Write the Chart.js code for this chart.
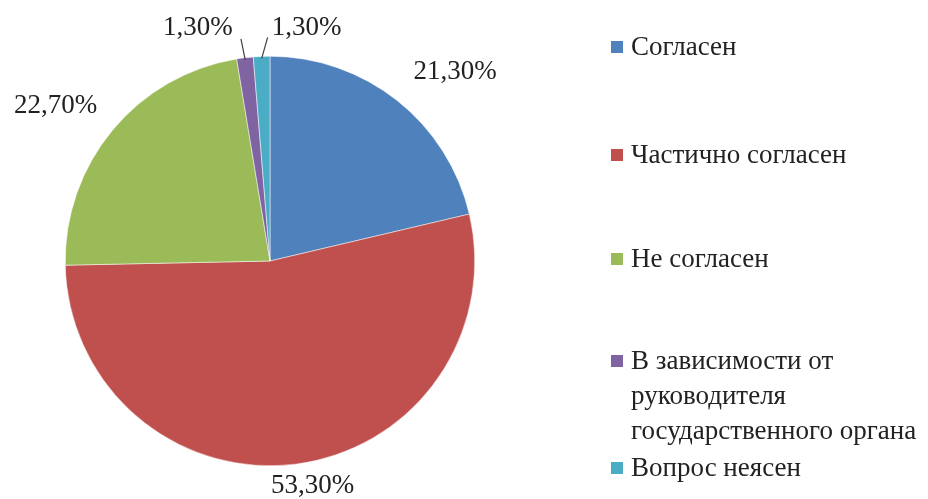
<!DOCTYPE html>
<html>
<head>
<meta charset="utf-8">
<script src="https://cdn.jsdelivr.net/npm/chart.js@4/dist/chart.umd.min.js"></script>
<style>
html,body{margin:0;padding:0;background:#fff;}
#wrap{position:relative;width:928px;height:499px;}
</style>
</head>
<body>
<div id="wrap"><canvas id="c" width="928" height="499"></canvas></div>
<script>
const categories = ["Согласен", "Частично согласен", "Не согласен", "В зависимости от руководителя государственного органа", "Вопрос неясен"];
const legendLines = [["Согласен"], ["Частично согласен"], ["Не согласен"], ["В зависимости от", "руководителя", "государственного органа"], ["Вопрос неясен"]];
const values = [21.3, 53.3, 22.7, 1.3, 1.3];
const valueLabels = ["21,30%", "53,30%", "22,70%", "1,30%", "1,30%"];
const colors = ["#4F81BD", "#C0504D", "#9BBB59", "#8064A2", "#4BACC6"];

const FONT = '27px "Liberation Serif", "Times New Roman", serif';
const TEXT = '#222222';

// label offsets relative to the arc edge point at mid-angle (style only)
const labelShift = [[58, -29], [17, 22], [-57, -24], [-47, -30], [45, -29]];
const leaderTop = [null, null, null, [-4, -19], [6, -19]];
const legendY = [47, 155, 259, 361, 468];
const legendLineH = 35;

const labelPlugin = {
  id: 'labelsAndLegend',
  afterDraw(chart) {
    const ctx = chart.ctx;
    const meta = chart.getDatasetMeta(0);
    ctx.save();
    ctx.font = FONT;
    ctx.fillStyle = TEXT;
    ctx.textBaseline = 'middle';
    ctx.textAlign = 'center';
    meta.data.forEach((arc, i) => {
      const p = arc.getProps(['x', 'y', 'startAngle', 'endAngle', 'outerRadius'], true);
      const mid = (p.startAngle + p.endAngle) / 2;
      const ex = p.x + Math.cos(mid) * p.outerRadius;
      const ey = p.y + Math.sin(mid) * p.outerRadius;
      if (leaderTop[i]) {
        ctx.strokeStyle = '#404040';
        ctx.lineWidth = 1.2;
        ctx.beginPath();
        ctx.moveTo(ex + Math.cos(mid) * -2, ey + Math.sin(mid) * -2);
        ctx.lineTo(ex + leaderTop[i][0], ey + leaderTop[i][1]);
        ctx.stroke();
      }
      ctx.fillText(valueLabels[i], ex + labelShift[i][0], ey + labelShift[i][1]);
    });
    // legend
    ctx.textAlign = 'left';
    legendLines.forEach((lines, i) => {
      const y0 = legendY[i];
      ctx.fillStyle = colors[i];
      ctx.fillRect(611, y0 - 6, 12, 12);
      ctx.fillStyle = TEXT;
      lines.forEach((t, j) => ctx.fillText(t, 631, y0 + j * legendLineH + 1));
    });
    ctx.restore();
  }
};

new Chart(document.getElementById('c'), {
  type: 'pie',
  data: {
    labels: categories,
    datasets: [{
      data: values,
      backgroundColor: colors,
      borderColor: '#ffffff',
      borderWidth: 0.5
    }]
  },
  options: {
    responsive: false,
    animation: false,
    layout: { padding: { left: 65, right: 453, top: 56, bottom: 33 } },
    plugins: { legend: { display: false }, tooltip: { enabled: false } }
  },
  plugins: [labelPlugin]
});
</script>
</body>
</html>
